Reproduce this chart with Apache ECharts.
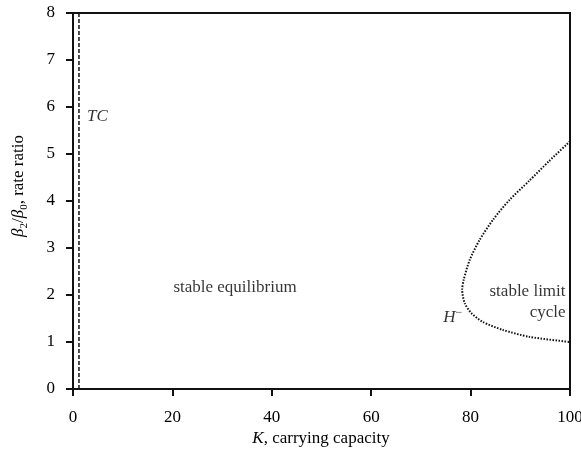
<!DOCTYPE html>
<html>
<head>
<meta charset="utf-8">
<script src="https://cdn.jsdelivr.net/npm/echarts@6/dist/echarts.min.js"></script>
<style>
  html, body { margin: 0; padding: 0; background: #fff; }
  #chart { width: 581px; height: 452px; }
</style>
</head>
<body>
<div id="chart"></div>
<script>
// Axis ranges and ticks
const xTicks = [0, 20, 40, 60, 80, 100];
const yTicks = [0, 1, 2, 3, 4, 5, 6, 7, 8];

// Transcritical bifurcation line (K where it sits)
const tcK = 1.2;
const tcRange = [0, 8];

// Hopf (H-) bifurcation curve, traced from upper right round the nose to lower right
const hopfK = [100, 95.8, 91.8, 87.8, 84.5, 81.8, 79.8, 78.6, 78.3, 78.8, 80.1, 82.4, 86.4, 91.8, 100];
const hopfRatio = [5.27, 4.85, 4.43, 4.02, 3.60, 3.17, 2.74, 2.32, 2.11, 1.83, 1.62, 1.43, 1.26, 1.11, 1.00];

// Region annotations: K, ratio, text
const noteK = [32.6, 99.1, 76.4, 4.9];
const noteRatio = [2.15, 1.86, 1.53, 5.8];
const noteText = ['stable equilibrium', 'stable limit\ncycle', '{i|H}{sup|−}', '{i|TC}'];
const noteAlign = ['center', 'right', 'center', 'center'];

const serif = '"Liberation Serif", "DejaVu Serif", serif';
const fs = 17;
const ink = '#000';

const chart = echarts.init(document.getElementById('chart'), null, { renderer: 'canvas' });

const richStyles = {
  i: { fontFamily: serif, fontStyle: 'italic', fontSize: fs, color: ink },
  sup: { fontFamily: serif, fontSize: 12, color: ink, verticalAlign: 'top', padding: [0, 0, 8, 0] }
};

const option = {
  animation: false,
  backgroundColor: '#fff',
  grid: {
    left: 73, right: 11, top: 13, bottom: 63,
    outerBoundsMode: 'none', containLabel: false,
    show: true, borderColor: '#111', borderWidth: 2, backgroundColor: 'transparent'
  },
  xAxis: {
    type: 'value', min: xTicks[0], max: xTicks[xTicks.length - 1], interval: 20,
    axisLine: { show: true, onZero: false, lineStyle: { color: '#111', width: 2 } },
    axisTick: { show: true, length: 7, inside: false, lineStyle: { color: '#111', width: 2 } },
    axisLabel: { margin: 20, color: ink, fontFamily: serif, fontSize: fs },
    splitLine: { show: false }
  },
  yAxis: {
    type: 'value', min: yTicks[0], max: yTicks[yTicks.length - 1], interval: 1,
    axisLine: { show: true, onZero: false, lineStyle: { color: '#111', width: 2 } },
    axisTick: { show: true, length: 7, inside: false, lineStyle: { color: '#111', width: 2 } },
    axisLabel: { margin: 18, color: ink, fontFamily: serif, fontSize: fs },
    splitLine: { show: false }
  },
  series: [
    {
      name: 'TC',
      type: 'line',
      data: tcRange.map(v => [tcK, v]),
      symbol: 'none',
      lineStyle: { color: '#111', width: 1.5, type: [4, 2] },
      z: 3
    },
    {
      name: 'H-',
      type: 'line',
      data: hopfK.map((k, i) => [k, hopfRatio[i]]),
      symbol: 'none',
      smooth: 0.25,
      lineStyle: { color: '#111', width: 2, type: [1.5, 1.5] },
      z: 3
    },
    {
      name: 'notes',
      type: 'scatter',
      symbolSize: 0,
      silent: true,
      data: noteK.map((k, i) => ({
        value: [k, noteRatio[i]],
        label: {
          show: true, position: 'inside', formatter: noteText[i], align: noteAlign[i],
          verticalAlign: 'middle', lineHeight: 21,
          fontFamily: serif, fontSize: fs, color: ink, rich: richStyles
        }
      }))
    }
  ],
  graphic: [
    {
      type: 'text', x: 19, y: 186, rotation: Math.PI / 2,
      style: {
        text: '{i|β}{s|2}{n|/}{i|β}{s|0}{n|, rate ratio}',
        align: 'center', verticalAlign: 'middle',
        rich: {
          i: { fontFamily: serif, fontStyle: 'italic', fontSize: fs, color: ink, lineHeight: 22, verticalAlign: 'middle' },
          n: { fontFamily: serif, fontSize: fs, color: ink, lineHeight: 22, verticalAlign: 'middle' },
          s: { fontFamily: serif, fontSize: 11, color: ink, lineHeight: 12, verticalAlign: 'bottom' }
        }
      }
    },
    {
      type: 'text', x: 321, y: 439,
      style: {
        text: '{i|K}{n|, carrying capacity}',
        align: 'center', verticalAlign: 'middle',
        rich: {
          i: { fontFamily: serif, fontStyle: 'italic', fontSize: fs, color: ink },
          n: { fontFamily: serif, fontSize: fs, color: ink }
        }
      }
    }
  ]
};

chart.setOption(option);
</script>
</body>
</html>
